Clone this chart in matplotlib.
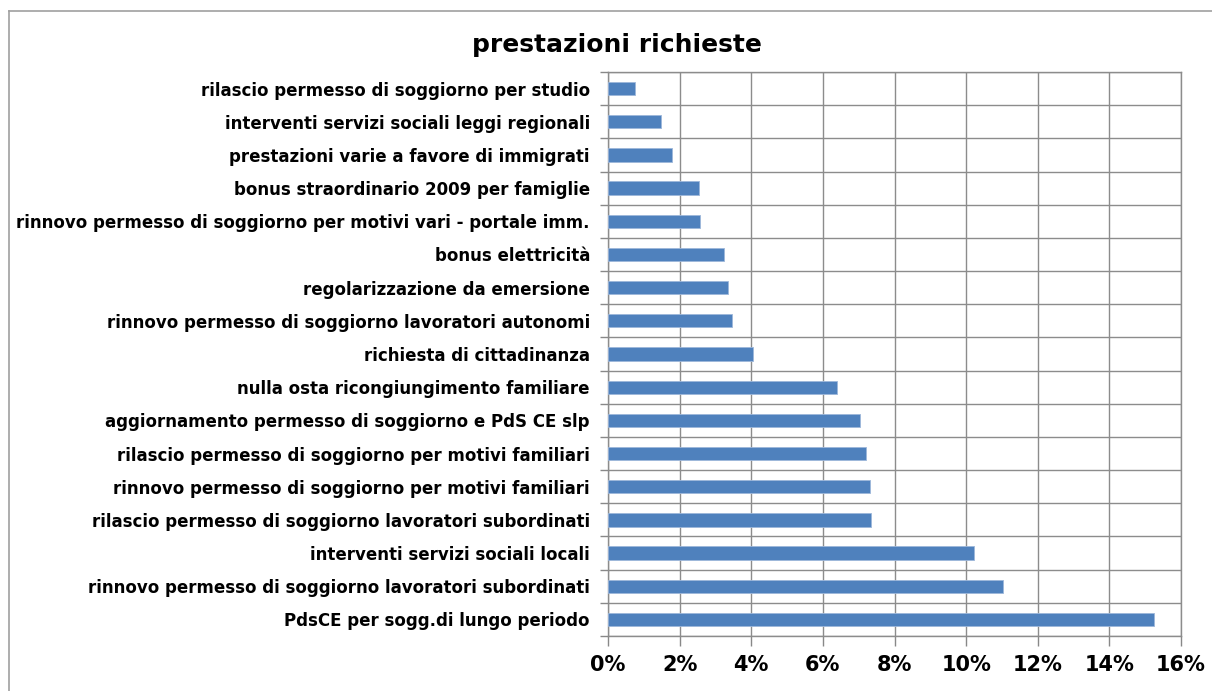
import matplotlib
matplotlib.use("Agg")
from matplotlib import pyplot as plt
from matplotlib.ticker import PercentFormatter
from matplotlib.lines import Line2D

plt.rcParams['font.family'] = ['DejaVu Sans']

# data (top to bottom as in the picture)
labels = [
    "rilascio permesso di soggiorno per studio",
    "interventi servizi sociali leggi regionali",
    "prestazioni varie a favore di immigrati",
    "bonus straordinario 2009 per famiglie",
    "rinnovo permesso di soggiorno per motivi vari - portale imm.",
    "bonus elettricità",
    "regolarizzazione da emersione",
    "rinnovo permesso di soggiorno lavoratori autonomi",
    "richiesta di cittadinanza",
    "nulla osta ricongiungimento familiare",
    "aggiornamento permesso di soggiorno e PdS CE slp",
    "rilascio permesso di soggiorno per motivi familiari",
    "rinnovo permesso di soggiorno per motivi familiari",
    "rilascio permesso di soggiorno lavoratori subordinati",
    "interventi servizi sociali locali",
    "rinnovo permesso di soggiorno lavoratori subordinati",
    "PdsCE per sogg.di lungo periodo",
]
values = [0.76, 1.47, 1.79, 2.53, 2.57, 3.24, 3.35, 3.46, 4.06,
          6.39, 7.04, 7.21, 7.31, 7.35, 10.22, 11.03, 15.24]
xticks = [0, 2, 4, 6, 8, 10, 12, 14, 16]

fig = plt.figure(figsize=(12.12, 6.91), dpi=100)
ax = fig.add_axes([608/1212, 1 - 636/691, (1181 - 608)/1212, (636 - 72)/691])

pos = list(range(len(labels)))
ax.barh(pos, values, height=0.4, color='#4F81BD', edgecolor='#9DB7DA', linewidth=0.6, zorder=3)

ax.set_ylim(len(labels) - 0.5, -0.5)
ax.set_xlim(0, 16)
ax.set_xticks(xticks)
ax.xaxis.set_major_formatter(PercentFormatter(decimals=0))
ax.set_yticks(pos)
ax.set_yticklabels(labels, fontsize=12, fontweight='bold')
ax.set_yticks([p + 0.5 for p in [-1] + pos], minor=True)
ax.tick_params(axis='y', which='major', length=0, pad=13)
ax.tick_params(axis='y', which='minor', length=6, color='#888888', width=1)
ax.tick_params(axis='x', length=7, color='#888888', width=1, labelsize=15, pad=7)
for t in ax.get_xticklabels():
    t.set_fontweight('bold')

ax.grid(axis='x', color='#8c8c8c', linewidth=1, zorder=0)
ax.grid(axis='y', which='minor', color='#8c8c8c', linewidth=1, zorder=0)
for s in ax.spines.values():
    s.set_color('#8c8c8c')
    s.set_linewidth(1)

fig.text(617/1212, 1 - 45/691, "prestazioni richieste", ha='center', va='center',
         fontsize=18, fontweight='bold')

# outer chart border (top and left visible)
fig.add_artist(Line2D([9/1212, 1], [1 - 11/691, 1 - 11/691], color='#a0a0a0', linewidth=1.2,
                      transform=fig.transFigure))
fig.add_artist(Line2D([9/1212, 9/1212], [0, 1 - 11/691], color='#a0a0a0', linewidth=1.2,
                      transform=fig.transFigure))

fig.savefig("out.png", dpi=100)
